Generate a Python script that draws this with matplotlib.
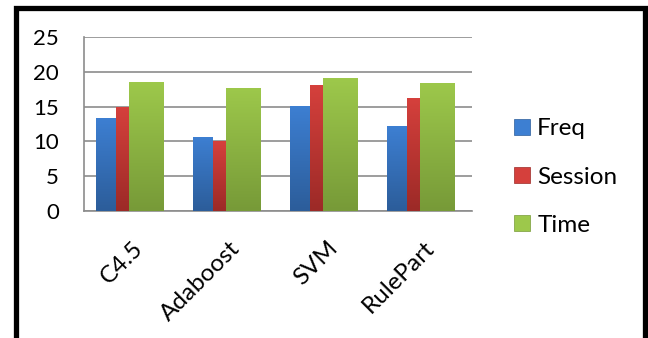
import numpy as np
import matplotlib.pyplot as plt
from matplotlib.colors import LinearSegmentedColormap
from matplotlib.patches import Patch, Rectangle

plt.rcParams['font.family'] = ['Lato', 'DejaVu Sans']

# datos
categorias = ['C4.5', 'Adaboost', 'SVM', 'RulePart']
freq = [13.3, 10.7, 15.1, 12.2]
session = [14.9, 10.0, 18.1, 16.2]
time_ = [18.5, 17.7, 19.1, 18.4]
series = ['Freq', 'Session', 'Time']

# colores (arriba claro, abajo oscuro)
colores = {
    'Freq': ('#2c5d9a', '#3d7fd2'),
    'Session': ('#9c2a27', '#d5403c'),
    'Time': ('#779a38', '#9dc84b'),
}

fig = plt.figure(figsize=(6.48, 3.38), dpi=100)
ax = fig.add_axes([0.1296, 0.3757, 0.5988, 0.5148])

x = np.arange(len(categorias))
# desplazamiento y ancho de cada serie dentro del grupo
offsets = [-0.376, -0.170, -0.036]
anchos = [0.206, 0.206, 0.36]
valores = [freq, session, time_]

for nombre, vals, off, w in zip(series, valores, offsets, anchos):
    bajo, alto = colores[nombre]
    cmap = LinearSegmentedColormap.from_list(nombre, [bajo, alto])
    barras = ax.bar(x + off, vals, width=w, align='edge', color='none',
                    edgecolor='none', zorder=3)
    for b in barras:
        x0, y0 = b.get_xy()
        grad = np.linspace(0, 1, 100).reshape(-1, 1)
        im = ax.imshow(grad, cmap=cmap, origin='lower', aspect='auto',
                       extent=[x0, x0 + b.get_width(), 0, b.get_height()],
                       zorder=3)
        im.set_clip_path(b)

ax.set_xlim(-0.5, len(categorias) - 0.5)
ax.set_ylim(0, 25)
ax.set_yticks([0, 5, 10, 15, 20, 25])
ax.set_xticks(x)
ax.set_xticklabels(categorias, rotation=45, ha='right', rotation_mode='anchor',
                   fontsize=17.5)
ax.tick_params(axis='y', length=0, pad=18, labelsize=16)
ax.tick_params(axis='x', length=0, pad=19)

ax.grid(axis='y', color='#8c8c8c', linewidth=1.2, zorder=0)
ax.set_axisbelow(True)
for lado in ['top', 'right']:
    ax.spines[lado].set_visible(False)
for lado in ['left', 'bottom']:
    ax.spines[lado].set_color('#8c8c8c')
    ax.spines[lado].set_linewidth(1.2)

handles = [Patch(facecolor=colores[s][1], edgecolor=colores[s][0], linewidth=0.5)
           for s in series]
fig.legend(handles, series, loc='upper left', bbox_to_anchor=(0.793, 0.650),
           frameon=False, fontsize=17.5, handlelength=0.66, handleheight=0.66,
           handletextpad=0.3, labelspacing=1.12, borderpad=0, borderaxespad=0)

# marco negro alrededor del grafico
marco = Rectangle((15.5 / 648, -0.1), (644.5 - 15.5) / 648, 1.1 - 8 / 338,
                  transform=fig.transFigure, fill=False, edgecolor='black',
                  linewidth=3.8, clip_on=False)
fig.patches.append(marco)

fig.savefig('out.png', dpi=100)
